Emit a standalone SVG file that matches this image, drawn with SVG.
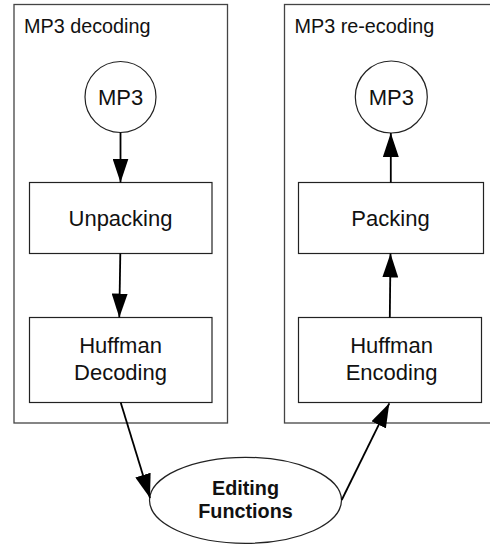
<svg xmlns="http://www.w3.org/2000/svg" width="490" height="544" viewBox="0 0 490 544">
  <defs>
    <marker id="arrow" viewBox="0 0 24 16" refX="24" refY="8" markerWidth="24" markerHeight="16" markerUnits="userSpaceOnUse" orient="auto">
      <path d="M0,0 L24,8 L0,16 Z" fill="#000"/>
    </marker>
    <style>
      .frame { fill: #fff; stroke: #444; stroke-width: 1.3; }
      .box { fill: #fff; stroke: #222; stroke-width: 1.2; }
      .title { font-family: "Liberation Sans", Arial, sans-serif; font-size: 19.8px; fill: #111; }
      .label { font-family: "Liberation Sans", Arial, sans-serif; font-size: 22px; fill: #111; text-anchor: middle; }
      .bold { font-family: "Liberation Sans", Arial, sans-serif; font-size: 19.8px; font-weight: bold; fill: #111; text-anchor: middle; }
      .edge { fill: none; stroke: #000; stroke-width: 1.8; marker-end: url(#arrow); }
    </style>
  </defs>
  <rect width="490" height="544" fill="#fff"/>

  <!-- decoding stage -->
  <g id="decoding">
    <rect class="frame" x="14" y="4.5" width="213.5" height="418.5"/>
    <text class="title" x="24" y="33">MP3 decoding</text>
  </g>
  <g id="mp3-in">
    <circle class="box" cx="120.5" cy="97" r="35.5"/>
    <text class="label" x="120.5" y="105">MP3</text>
  </g>
  <g id="unpacking">
    <rect class="box" x="29.5" y="182.5" width="182.5" height="71"/>
    <text class="label" x="120.5" y="226">Unpacking</text>
  </g>
  <g id="huffman-decoding">
    <rect class="box" x="29.5" y="317.5" width="182.5" height="85"/>
    <text class="label" x="120.5" y="353">Huffman</text>
    <text class="label" x="120.5" y="380">Decoding</text>
  </g>

  <!-- re-encoding stage -->
  <g id="reencoding">
    <rect class="frame" x="284.5" y="4.5" width="210" height="418.5"/>
    <text class="title" x="294.5" y="33">MP3 re-ecoding</text>
  </g>
  <g id="mp3-out">
    <circle class="box" cx="391.3" cy="97" r="36"/>
    <text class="label" x="391.3" y="105">MP3</text>
  </g>
  <g id="packing">
    <rect class="box" x="298.5" y="182.5" width="185" height="71"/>
    <text class="label" x="390.5" y="226">Packing</text>
  </g>
  <g id="huffman-encoding">
    <rect class="box" x="298.5" y="317.5" width="183" height="85"/>
    <text class="label" x="391.5" y="353">Huffman</text>
    <text class="label" x="391.5" y="380">Encoding</text>
  </g>

  <!-- editing -->
  <g id="editing">
    <ellipse class="box" cx="245.5" cy="500.3" rx="96" ry="43"/>
    <text class="bold" x="245.5" y="495">Editing</text>
    <text class="bold" x="245.5" y="517.5">Functions</text>
  </g>

  <!-- flow -->
  <g id="connectors">
    <line class="edge" x1="120.5" y1="132.5" x2="120.5" y2="182.5"/>
    <line class="edge" x1="120.3" y1="253.5" x2="119.3" y2="317.5"/>
    <line class="edge" x1="120.7" y1="402.5" x2="150" y2="498"/>
    <line class="edge" x1="341.7" y1="500" x2="389.3" y2="403.3"/>
    <line class="edge" x1="389.8" y1="317.5" x2="390.5" y2="253.5"/>
    <line class="edge" x1="390.8" y1="182.5" x2="390.8" y2="133"/>
  </g>
</svg>
